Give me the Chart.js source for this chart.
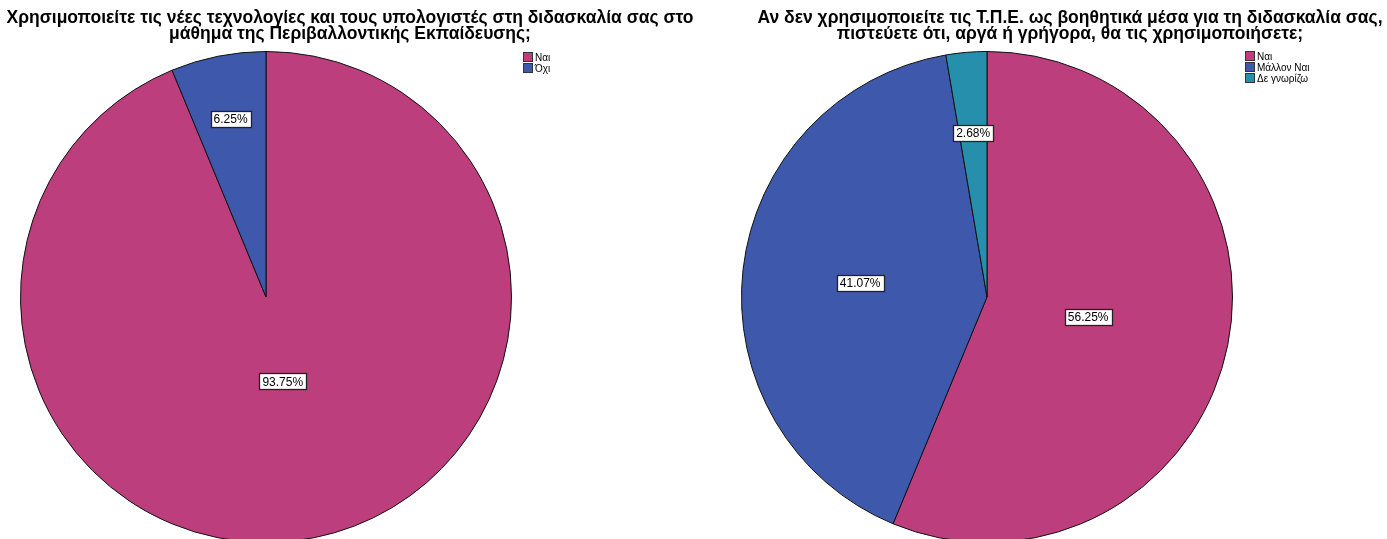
<!DOCTYPE html>
<html>
<head>
<meta charset="utf-8">
<script src="https://cdn.jsdelivr.net/npm/chart.js@4.4.0/dist/chart.umd.min.js"></script>
<style>
  html, body { margin: 0; padding: 0; background: #fff; overflow: hidden; }
  body { width: 1387px; height: 539px; position: relative; font-family: "Liberation Sans", Arial, sans-serif; }
  .pie { position: absolute; top: 0; }
  .legend { position: absolute; font-size: 10px; line-height: 11px; color: #000; }
  .legend div { white-space: nowrap; }
  .legend span { display: inline-block; width: 8px; height: 8px; border: 1px solid #333; vertical-align: -1px; margin-right: 2px; }
</style>
</head>
<body>
<div class="pie" style="left:0;width:700px;height:560px"><canvas id="useChart"></canvas></div>
<div class="pie" style="left:700px;width:740px;height:560px"><canvas id="futureChart"></canvas></div>
<div class="legend" id="useLegend" style="left:523px;top:52px"></div>
<div class="legend" id="futureLegend" style="left:1245px;top:51px"></div>
<script>
// Q1: use of ICT in environmental education lessons
const useTitle = ['Χρησιμοποιείτε τις νέες τεχνολογίες και τους υπολογιστές στη διδασκαλία σας στο',
  'μάθημα της Περιβαλλοντικής Εκπαίδευσης;'];
const useLabels = ['Ναι', 'Όχι'];
const usePercent = [93.75, 6.25];

// Q2: future use of ICT by those not using it yet
const futureTitle = ['Αν δεν χρησιμοποιείτε τις Τ.Π.Ε. ως βοηθητικά μέσα για τη διδασκαλία σας,',
  'πιστεύετε ότι, αργά ή γρήγορα, θα τις χρησιμοποιήσετε;'];
const futureLabels = ['Ναι', 'Μάλλον Ναι', 'Δε γνωρίζω'];
const futurePercent = [56.25, 41.07, 2.68];

const sliceColors = ['#bc3e7d', '#3e58ac', '#2690ac'];

// how far out along the bisector each value box sits (fraction of radius)
const useLabelPos = [0.35, 0.74];
const futureLabelPos = [0.42, 0.52, 0.67];

// two-line heading centred on the whole canvas, not just the pie area
const headline = {
  id: 'headline',
  afterDraw(chart, args, opts) {
    const ctx = chart.ctx;
    ctx.save();
    ctx.font = 'bold 17.5px "Liberation Sans", Arial, sans-serif';
    ctx.fillStyle = '#000';
    ctx.textAlign = 'center';
    ctx.textBaseline = 'middle';
    opts.text.forEach((line, i) => {
      ctx.fillText(line, chart.width / 2, 18 + i * 16);
    });
    ctx.restore();
  }
};

const valueBoxes = {
  id: 'valueBoxes',
  afterDatasetsDraw(chart, args, opts) {
    const ctx = chart.ctx;
    const meta = chart.getDatasetMeta(0);
    const values = chart.data.datasets[0].data;
    ctx.save();
    ctx.font = '12px "Liberation Sans", Arial, sans-serif';
    ctx.textAlign = 'center';
    ctx.textBaseline = 'middle';
    meta.data.forEach((arc, i) => {
      const p = arc.getProps(['x', 'y', 'startAngle', 'endAngle', 'outerRadius'], true);
      const mid = (p.startAngle + p.endAngle) / 2;
      const r = p.outerRadius * opts.pos[i];
      const x = p.x + Math.cos(mid) * r;
      const y = p.y + Math.sin(mid) * r;
      const txt = values[i].toFixed(2) + '%';
      const w = Math.round(ctx.measureText(txt).width + 6);
      const h = 16;
      const bx = Math.round(x - w / 2) + 0.5;
      const by = Math.round(y - h / 2) + 0.5;
      ctx.fillStyle = '#fff';
      ctx.fillRect(bx, by, w, h);
      ctx.strokeStyle = '#222';
      ctx.lineWidth = 1.3;
      ctx.strokeRect(bx, by, w, h);
      ctx.fillStyle = '#000';
      ctx.fillText(txt, x, y + 1);
    });
    ctx.restore();
  }
};

function makePie(id, title, labels, values, labelPos, padding) {
  new Chart(document.getElementById(id), {
    type: 'pie',
    data: {
      labels: labels,
      datasets: [{
        data: values,
        backgroundColor: sliceColors.slice(0, values.length),
        borderColor: '#111',
        borderWidth: 1
      }]
    },
    options: {
      responsive: true,
      maintainAspectRatio: false,
      animation: false,
      layout: { padding: padding },
      plugins: {
        legend: { display: false },
        tooltip: { enabled: false },
        title: { display: false },
        headline: { text: title },
        valueBoxes: { pos: labelPos }
      }
    },
    plugins: [valueBoxes, headline]
  });
}

function makeLegend(id, labels) {
  const el = document.getElementById(id);
  labels.forEach((name, i) => {
    const row = document.createElement('div');
    row.innerHTML = '<span style="background:' + sliceColors[i] + '"></span>' + name;
    el.appendChild(row);
  });
}

makePie('useChart', useTitle, useLabels, usePercent, useLabelPos, { left: 20, right: 188, top: 51, bottom: 17 });
makePie('futureChart', futureTitle, futureLabels, futurePercent, futureLabelPos, { left: 41, right: 207, top: 51, bottom: 17 });
makeLegend('useLegend', useLabels);
makeLegend('futureLegend', futureLabels);
</script>
</body>
</html>
